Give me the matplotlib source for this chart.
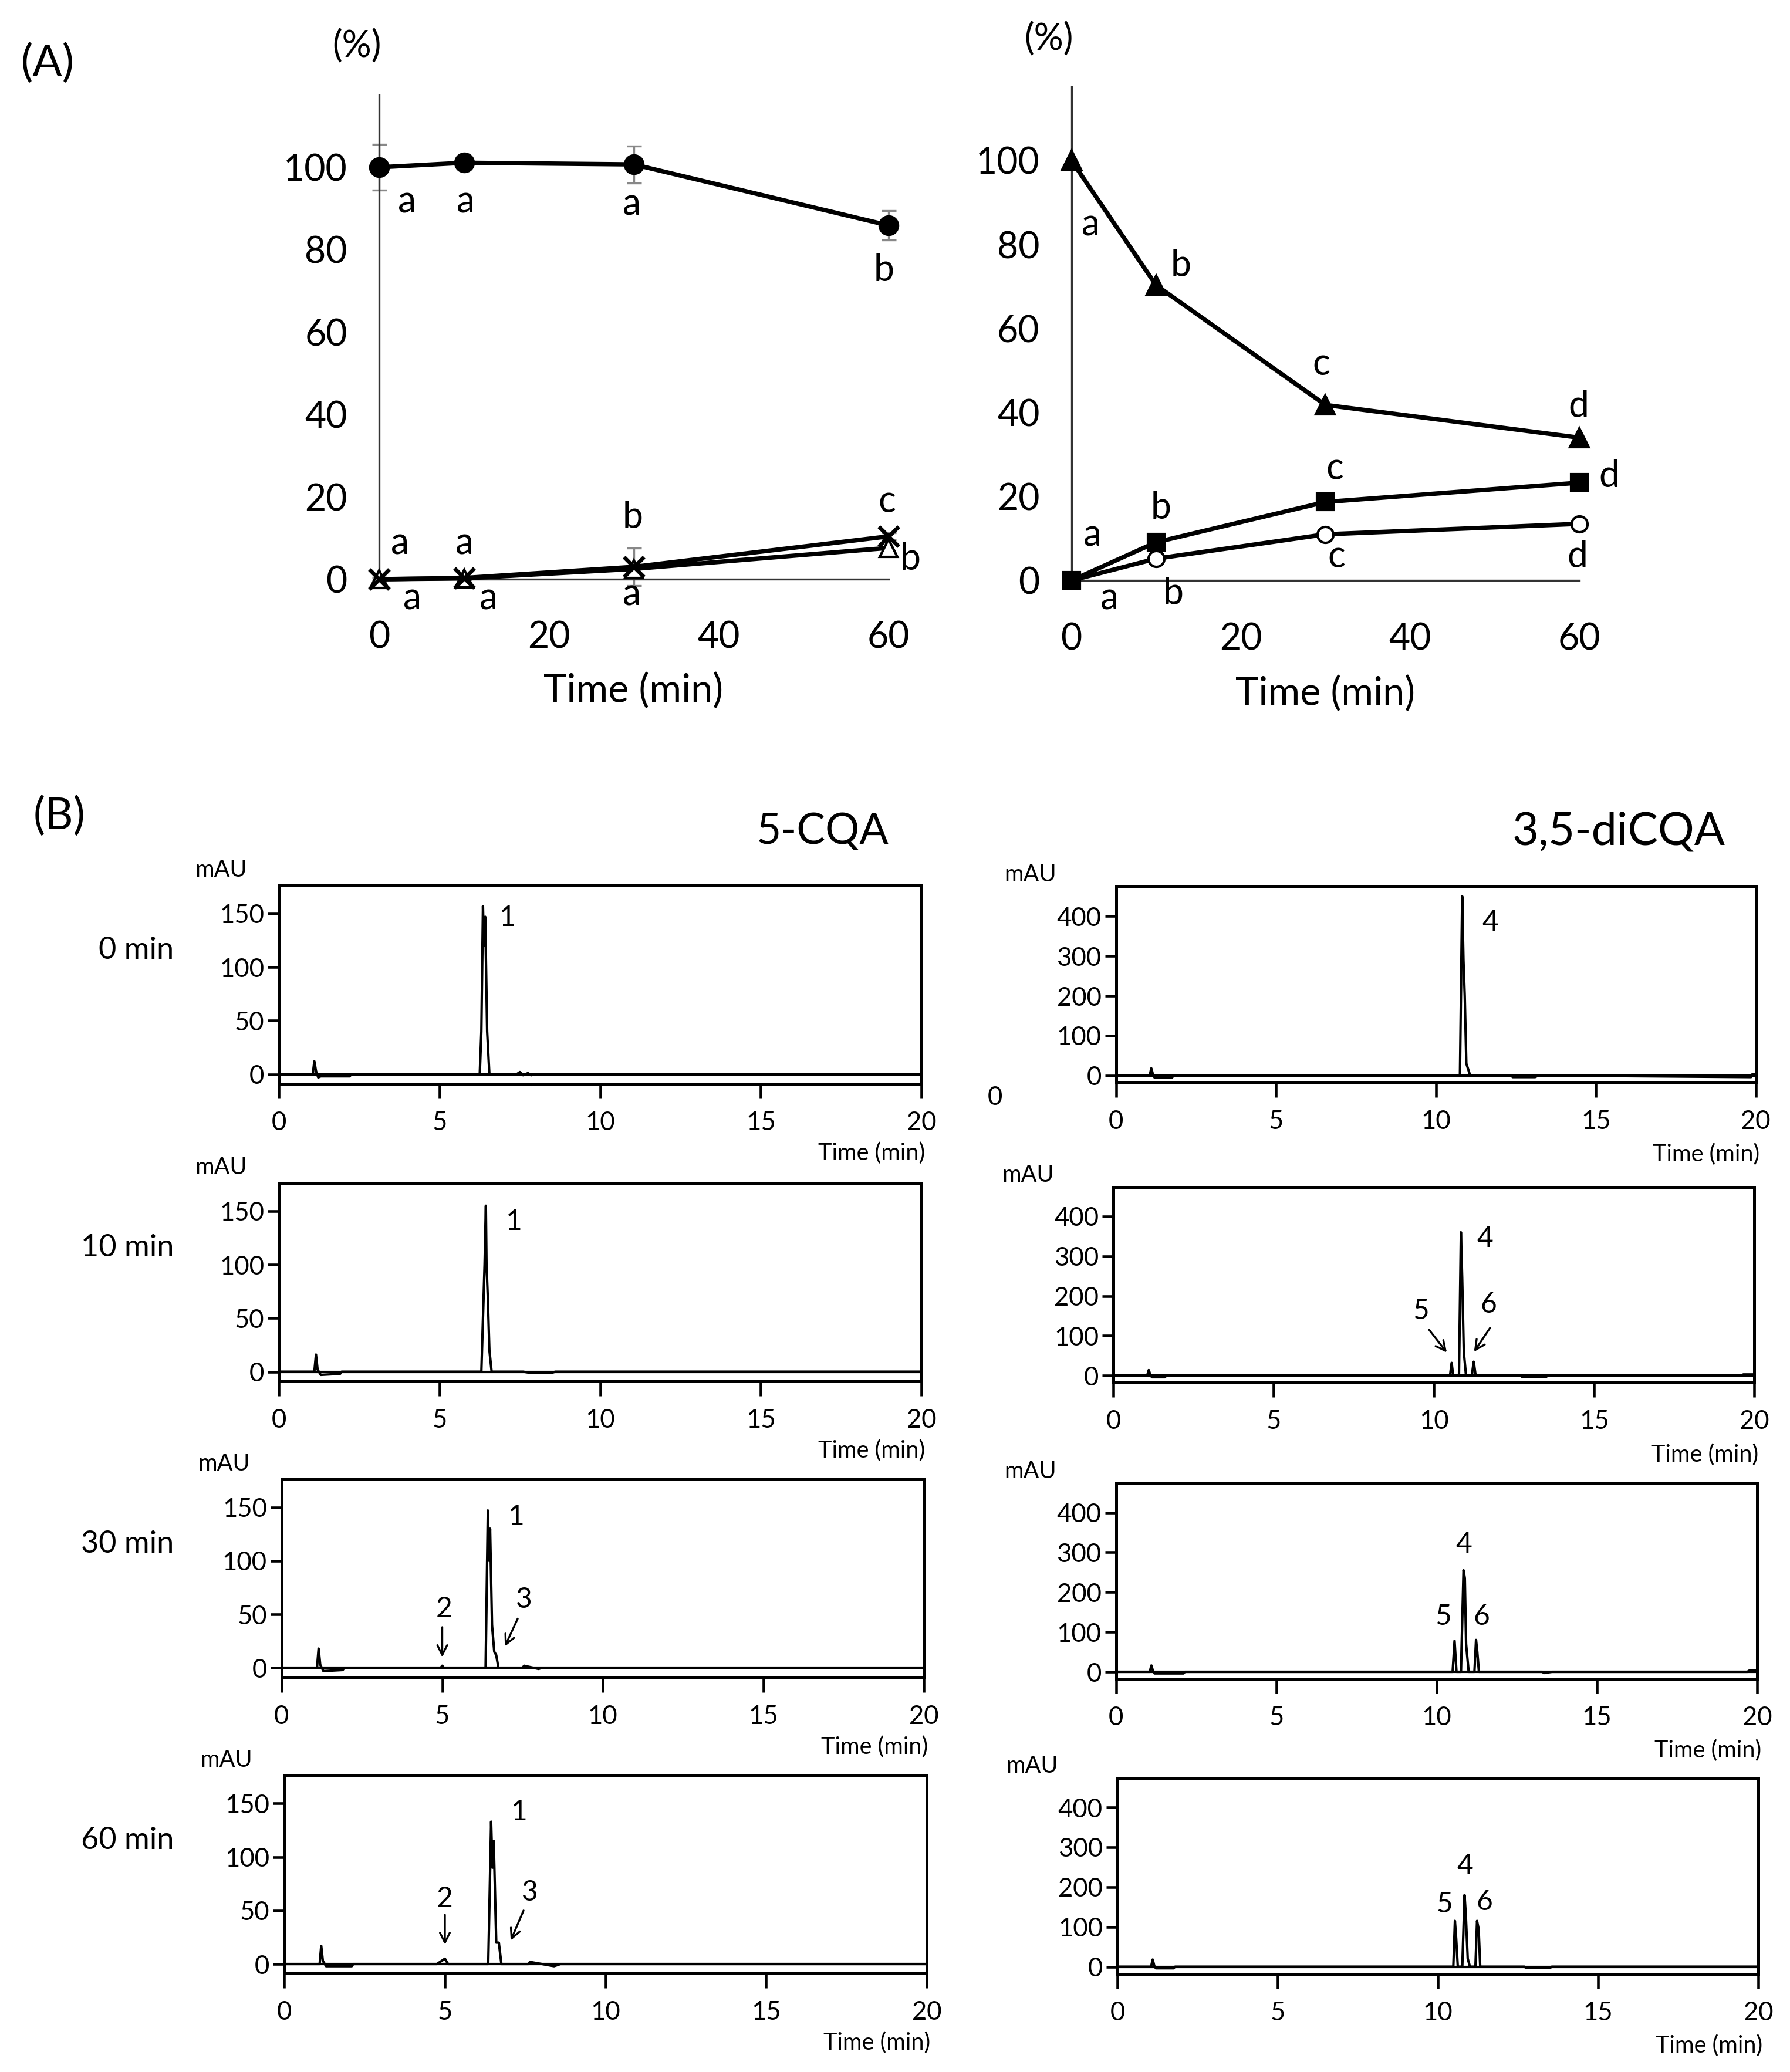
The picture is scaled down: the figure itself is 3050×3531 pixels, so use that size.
import matplotlib
matplotlib.use("Agg")
import matplotlib.pyplot as plt

plt.rcParams['font.family'] = ['Lato', 'DejaVu Sans']

# layout grid of the reference picture (scaled down)
W, H = 1360, 1574


def box(x0, y0, x1, y1):
    return [x0 / W, 1 - y1 / H, (x1 - x0) / W, (y1 - y0) / H]


def fig_xy(x, y):
    return x / W, 1 - y / H


# ---------------- (A) data ----------------
times = [0, 10, 30, 60]

cqa5 = [100, 101.1, 100.7, 85.9]
cqa5_err = [5.5, 1.5, 4.5, 3.5]
cqa5_letters = ['a', 'a', 'a', 'b']
cqa5_letter_pos = [(3.3, 91.5), (10.2, 91.5), (29.8, 91), (59.5, 75)]

prod_x = [0, 0.3, 3.0, 10.4]
prod_x_err = [0.4, 0.4, 4.5, 0.8]
prod_x_letters = ['a', 'a', 'b', 'c']
prod_x_letter_pos = [(2.5, 8.6), (10.1, 8.6), (29.9, 15), (59.8, 18.8)]

prod_tri = [0, 0.2, 2.5, 7.6]
prod_tri_letters = ['a', 'a', 'a', 'b']
prod_tri_letter_pos = [(3.9, -4.8), (12.9, -4.8), (29.8, -3.8), (62.6, 4.8)]

dicqa = [100, 70.3, 41.8, 34.0]
dicqa_letters = ['a', 'b', 'c', 'd']
dicqa_letter_pos = [(2.3, 84.6), (12.9, 74.9), (29.5, 51.4), (59.9, 41.4)]

prod_sq = [0, 9.1, 18.7, 23.3]
prod_sq_letters = ['a', 'b', 'c', 'd']
prod_sq_letter_pos = [(2.5, 10.7), (10.6, 17.2), (31.1, 26.6), (63.5, 24.8)]

prod_oc = [0, 5.2, 11.0, 13.5]
prod_oc_letters = ['a', 'b', 'c', 'd']
prod_oc_letter_pos = [(4.5, -4.4), (12.0, -3.1), (31.3, 5.6), (59.8, 5.6)]

# ---------------- (B) chromatograms (time, mAU) ----------------
cqa_t_0 = [0, 1.05, 1.1, 1.15, 1.22, 1.3, 2.2, 2.25, 6.25, 6.3, 6.35, 6.38, 6.42, 6.48, 6.55, 7.4, 7.5, 7.6, 7.75, 7.85, 7.95, 20]
cqa_y_0 = [0, 0, 12, 3, -3, -2, -2, 0, 0, 40, 157, 120, 147, 40, 0, 0, 2, -1, 1, -1, 0, 0]

cqa_t_10 = [0, 1.1, 1.15, 1.2, 1.3, 1.9, 1.95, 6.3, 6.4, 6.44, 6.46, 6.5, 6.55, 6.62, 7.6, 7.8, 8.0, 8.5, 8.6, 20]
cqa_y_10 = [0, 0, 16, 2, -3, -2, 0, 0, 100, 155, 100, 70, 20, 0, 0, -1, -1, -1, 0, 0]

cqa_t_30 = [0, 1.1, 1.15, 1.2, 1.3, 1.9, 1.95, 4.95, 5.0, 5.05, 6.35, 6.42, 6.46, 6.49, 6.55, 6.62, 6.68, 6.75, 7.5, 7.55, 8.0, 8.1, 20]
cqa_y_30 = [0, 0, 18, 3, -3, -2, 0, 0, 2, 0, 0, 147, 100, 130, 40, 15, 12, 0, 0, 2, -1, 0, 0]

cqa_t_60 = [0, 1.1, 1.15, 1.2, 1.3, 2.1, 2.15, 4.75, 4.85, 5.0, 5.1, 6.35, 6.44, 6.48, 6.52, 6.6, 6.68, 6.76, 7.6, 7.65, 8.4, 8.6, 20]
cqa_y_60 = [0, 0, 17, 3, -2, -2, 0, 0, 2, 5, 0, 0, 133, 90, 115, 20, 20, 0, 0, 2, -2, 0, 0]

dicqa_t_0 = [0, 1.05, 1.1, 1.15, 1.2, 1.75, 1.8, 10.75, 10.82, 10.86, 10.9, 10.95, 11.05, 11.1, 12.35, 12.4, 13.1, 13.2, 19.85, 19.9, 20]
dicqa_y_0 = [0, 0, 18, 3, -5, -5, 0, 0, 450, 290, 200, 30, 5, 0, 0, -4, -4, 0, -4, 4, 4]

dicqa_t_10 = [0, 1.05, 1.1, 1.15, 1.2, 1.6, 1.65, 10.5, 10.55, 10.6, 10.78, 10.84, 10.88, 10.93, 11.0, 11.18, 11.24, 11.3, 12.7, 12.75, 13.5, 13.55, 19.6, 19.65, 20]
dicqa_y_10 = [0, 0, 14, 2, -4, -4, 0, 0, 32, 0, 0, 360, 245, 60, 0, 0, 35, 0, 0, -3, -3, 0, 0, 3, 3]

dicqa_t_30 = [0, 1.05, 1.1, 1.15, 1.2, 2.1, 2.15, 10.5, 10.56, 10.62, 10.76, 10.84, 10.88, 10.92, 11.0, 11.18, 11.23, 11.27, 11.32, 13.3, 13.35, 13.6, 19.7, 19.75, 20]
dicqa_y_30 = [0, 0, 16, 2, -4, -4, 0, 0, 78, 0, 0, 255, 235, 70, 0, 0, 80, 50, 0, 0, -3, 0, 0, 3, 3]

dicqa_t_60 = [0, 1.05, 1.1, 1.15, 1.2, 1.75, 1.8, 10.48, 10.53, 10.57, 10.62, 10.76, 10.83, 10.87, 10.93, 11.0, 11.17, 11.22, 11.27, 11.32, 12.7, 12.75, 13.5, 13.55, 20]
dicqa_y_60 = [0, 0, 18, 2, -4, -4, 0, 0, 115, 70, 0, 0, 180, 130, 20, 0, 0, 115, 95, 0, 0, -3, -3, 0, 0]

sample_times = ['0 min', '10 min', '30 min', '60 min']
cqa_traces = [(cqa_t_0, cqa_y_0), (cqa_t_10, cqa_y_10), (cqa_t_30, cqa_y_30), (cqa_t_60, cqa_y_60)]
dicqa_traces = [(dicqa_t_0, dicqa_y_0), (dicqa_t_10, dicqa_y_10), (dicqa_t_30, dicqa_y_30), (dicqa_t_60, dicqa_y_60)]

# peak labels (text, x, y) and arrows (x_from, y_from, x_to, y_to)
cqa_peak_labels = [
    [('1', 7.1, 146)],
    [('1', 7.3, 140)],
    [('1', 7.3, 141), ('2', 5.05, 55), ('3', 7.55, 64)],
    [('1', 7.3, 142), ('2', 5.0, 61), ('3', 7.65, 67)],
]
cqa_arrows = [
    [],
    [],
    [(5.0, 38, 5.0, 10), (7.35, 46, 6.95, 20)],
    [(5.0, 46, 5.0, 18), (7.45, 50, 7.05, 22)],
]
dicqa_peak_labels = [
    [('4', 11.7, 384)],
    [('4', 11.6, 344), ('5', 9.6, 162), ('6', 11.7, 178)],
    [('4', 10.85, 320), ('5', 10.2, 139), ('6', 11.4, 139)],
    [('4', 10.85, 253), ('5', 10.2, 157), ('6', 11.45, 163)],
]
dicqa_arrows = [
    [],
    [(9.85, 115, 10.4, 58), (11.75, 120, 11.25, 60)],
    [],
    [],
]

# ---------------- figure ----------------
fig = plt.figure(figsize=(3050 / 300, 3531 / 300), dpi=300)


def setup_a(ax, ytop):
    ax.set_xlim(0, 60)
    ax.set_ylim(0, ytop)
    for s in ['top', 'right']:
        ax.spines[s].set_visible(False)
    for s in ['left', 'bottom']:
        ax.spines[s].set_linewidth(0.8)
        ax.spines[s].set_color('#333333')
    ax.set_xticks([0, 20, 40, 60])
    ax.set_yticks([0, 20, 40, 60, 80, 100])
    ax.tick_params(length=0, labelsize=15, pad=13)
    ax.tick_params(axis='x', pad=17)
    ax.patch.set_alpha(0)


def letters(ax, labels, pos):
    for lab, (x, y) in zip(labels, pos):
        ax.text(x, y, lab, fontsize=15, ha='center', va='center', clip_on=False)


line_kw = dict(color='black', lw=1.8, clip_on=False, zorder=3)

# left A panel
ax1 = fig.add_axes(box(288, 72, 675, 440))
setup_a(ax1, 117.6)
ax1.errorbar(times, cqa5, yerr=cqa5_err, fmt='none', ecolor='#888888', elinewidth=0.8,
             capsize=3, capthick=0.8, zorder=2, clip_on=False)
ax1.errorbar(times, prod_x, yerr=prod_x_err, fmt='none', ecolor='#888888', elinewidth=0.8,
             capsize=3, capthick=0.8, zorder=2, clip_on=False)
ax1.plot(times, cqa5, marker='o', ms=7.5, mfc='black', mec='black', **line_kw)
ax1.plot(times, prod_tri, marker='^', ms=7, mfc='white', mec='black', mew=1.0, **line_kw)
ax1.plot(times, prod_x, marker='x', ms=8, mec='black', mew=1.6, **line_kw)
letters(ax1, cqa5_letters, cqa5_letter_pos)
letters(ax1, prod_x_letters, prod_x_letter_pos)
letters(ax1, prod_tri_letters, prod_tri_letter_pos)

# right A panel
ax2 = fig.add_axes(box(814, 66, 1200, 441))
setup_a(ax2, 117.5)
ax2.plot(times, dicqa, marker='^', ms=7.5, mfc='black', mec='black', **line_kw)
ax2.plot(times, prod_oc, marker='o', ms=6.5, mfc='white', mec='black', mew=1.0, **line_kw)
ax2.plot(times, prod_sq, marker='s', ms=6.5, mfc='black', mec='black', **line_kw)
letters(ax2, dicqa_letters, dicqa_letter_pos)
letters(ax2, prod_sq_letters, prod_sq_letter_pos)
letters(ax2, prod_oc_letters, prod_oc_letter_pos)

fig.text(*fig_xy(36, 48), '(A)', fontsize=18, ha='center', va='center')
fig.text(*fig_xy(271, 35), '(%)', fontsize=15, ha='center', va='center')
fig.text(*fig_xy(797, 30), '(%)', fontsize=15, ha='center', va='center')
fig.text(*fig_xy(481, 525), 'Time (min)', fontsize=16, ha='center', va='center')
fig.text(*fig_xy(1007, 527), 'Time (min)', fontsize=16, ha='center', va='center')

# ---------------- (B) ----------------
fig.text(*fig_xy(45, 620), '(B)', fontsize=18, ha='center', va='center')
fig.text(*fig_xy(625, 632), '5-CQA', fontsize=17.5, ha='center', va='center')
fig.text(*fig_xy(1230, 632), '3,5-diCQA', fontsize=18.5, ha='center', va='center')

left_x = [(212, 700), (212, 700), (214, 702), (216, 704)]
left_y0 = [816, 1042, 1267, 1492]
right_x = [(848, 1334), (846, 1333), (848, 1335), (849, 1336)]
right_y0 = [817, 1045, 1270, 1494]


def chrom(x0, x1, y0, ymin, ymax, ticks, px_per_unit, trace, labels, arrows):
    top = y0 - ymax * px_per_unit
    bot = y0 - ymin * px_per_unit
    ax = fig.add_axes(box(x0, top, x1, bot))
    ax.set_xlim(0, 20)
    ax.set_ylim(ymin, ymax)
    for s in ax.spines.values():
        s.set_linewidth(1.2)
    ax.set_xticks([0, 5, 10, 15, 20])
    ax.set_yticks(ticks)
    ax.tick_params(direction='out', width=1.1, labelsize=10.5)
    ax.tick_params(axis='x', length=6, pad=5)
    ax.tick_params(axis='y', length=4.5, pad=1.5)
    ax.axhline(0, color='black', lw=1.0, zorder=1)
    ax.plot(trace[0], trace[1], color='black', lw=1.0, zorder=2)
    for lab, x, y in labels:
        ax.text(x, y, lab, fontsize=11.5, ha='center', va='center')
    for xa, ya, xb, yb in arrows:
        ax.annotate('', xy=(xb, yb), xytext=(xa, ya),
                    arrowprops=dict(arrowstyle='->', lw=0.8, color='black', shrinkA=0, shrinkB=0))
    fig.text(*fig_xy(x1 + 3, y0 + 60), 'Time (min)', fontsize=9.5, ha='right', va='center')
    return ax, top


for i in range(4):
    ax, top = chrom(left_x[i][0], left_x[i][1], left_y0[i], -9, 176, [0, 50, 100, 150],
                    122 / 150, cqa_traces[i], cqa_peak_labels[i], cqa_arrows[i])
    fig.text(*fig_xy(left_x[i][0] - 44, top - 12), 'mAU', fontsize=9.5, ha='center', va='center')
    fig.text(*fig_xy(132, left_y0[i] - 94), sample_times[i], fontsize=12.5, ha='right', va='center')

    ax, top = chrom(right_x[i][0], right_x[i][1], right_y0[i], -18, 474, [0, 100, 200, 300, 400],
                    121 / 400, dicqa_traces[i], dicqa_peak_labels[i], dicqa_arrows[i])
    fig.text(*fig_xy(right_x[i][0] - 65, top - 9), 'mAU', fontsize=9.5, ha='center', va='center')

# stray zero printed beside the first 3,5-diCQA chromatogram
fig.text(*fig_xy(756, 834), '0', fontsize=10.5, ha='center', va='center')

fig.savefig('out.png', dpi=300)
